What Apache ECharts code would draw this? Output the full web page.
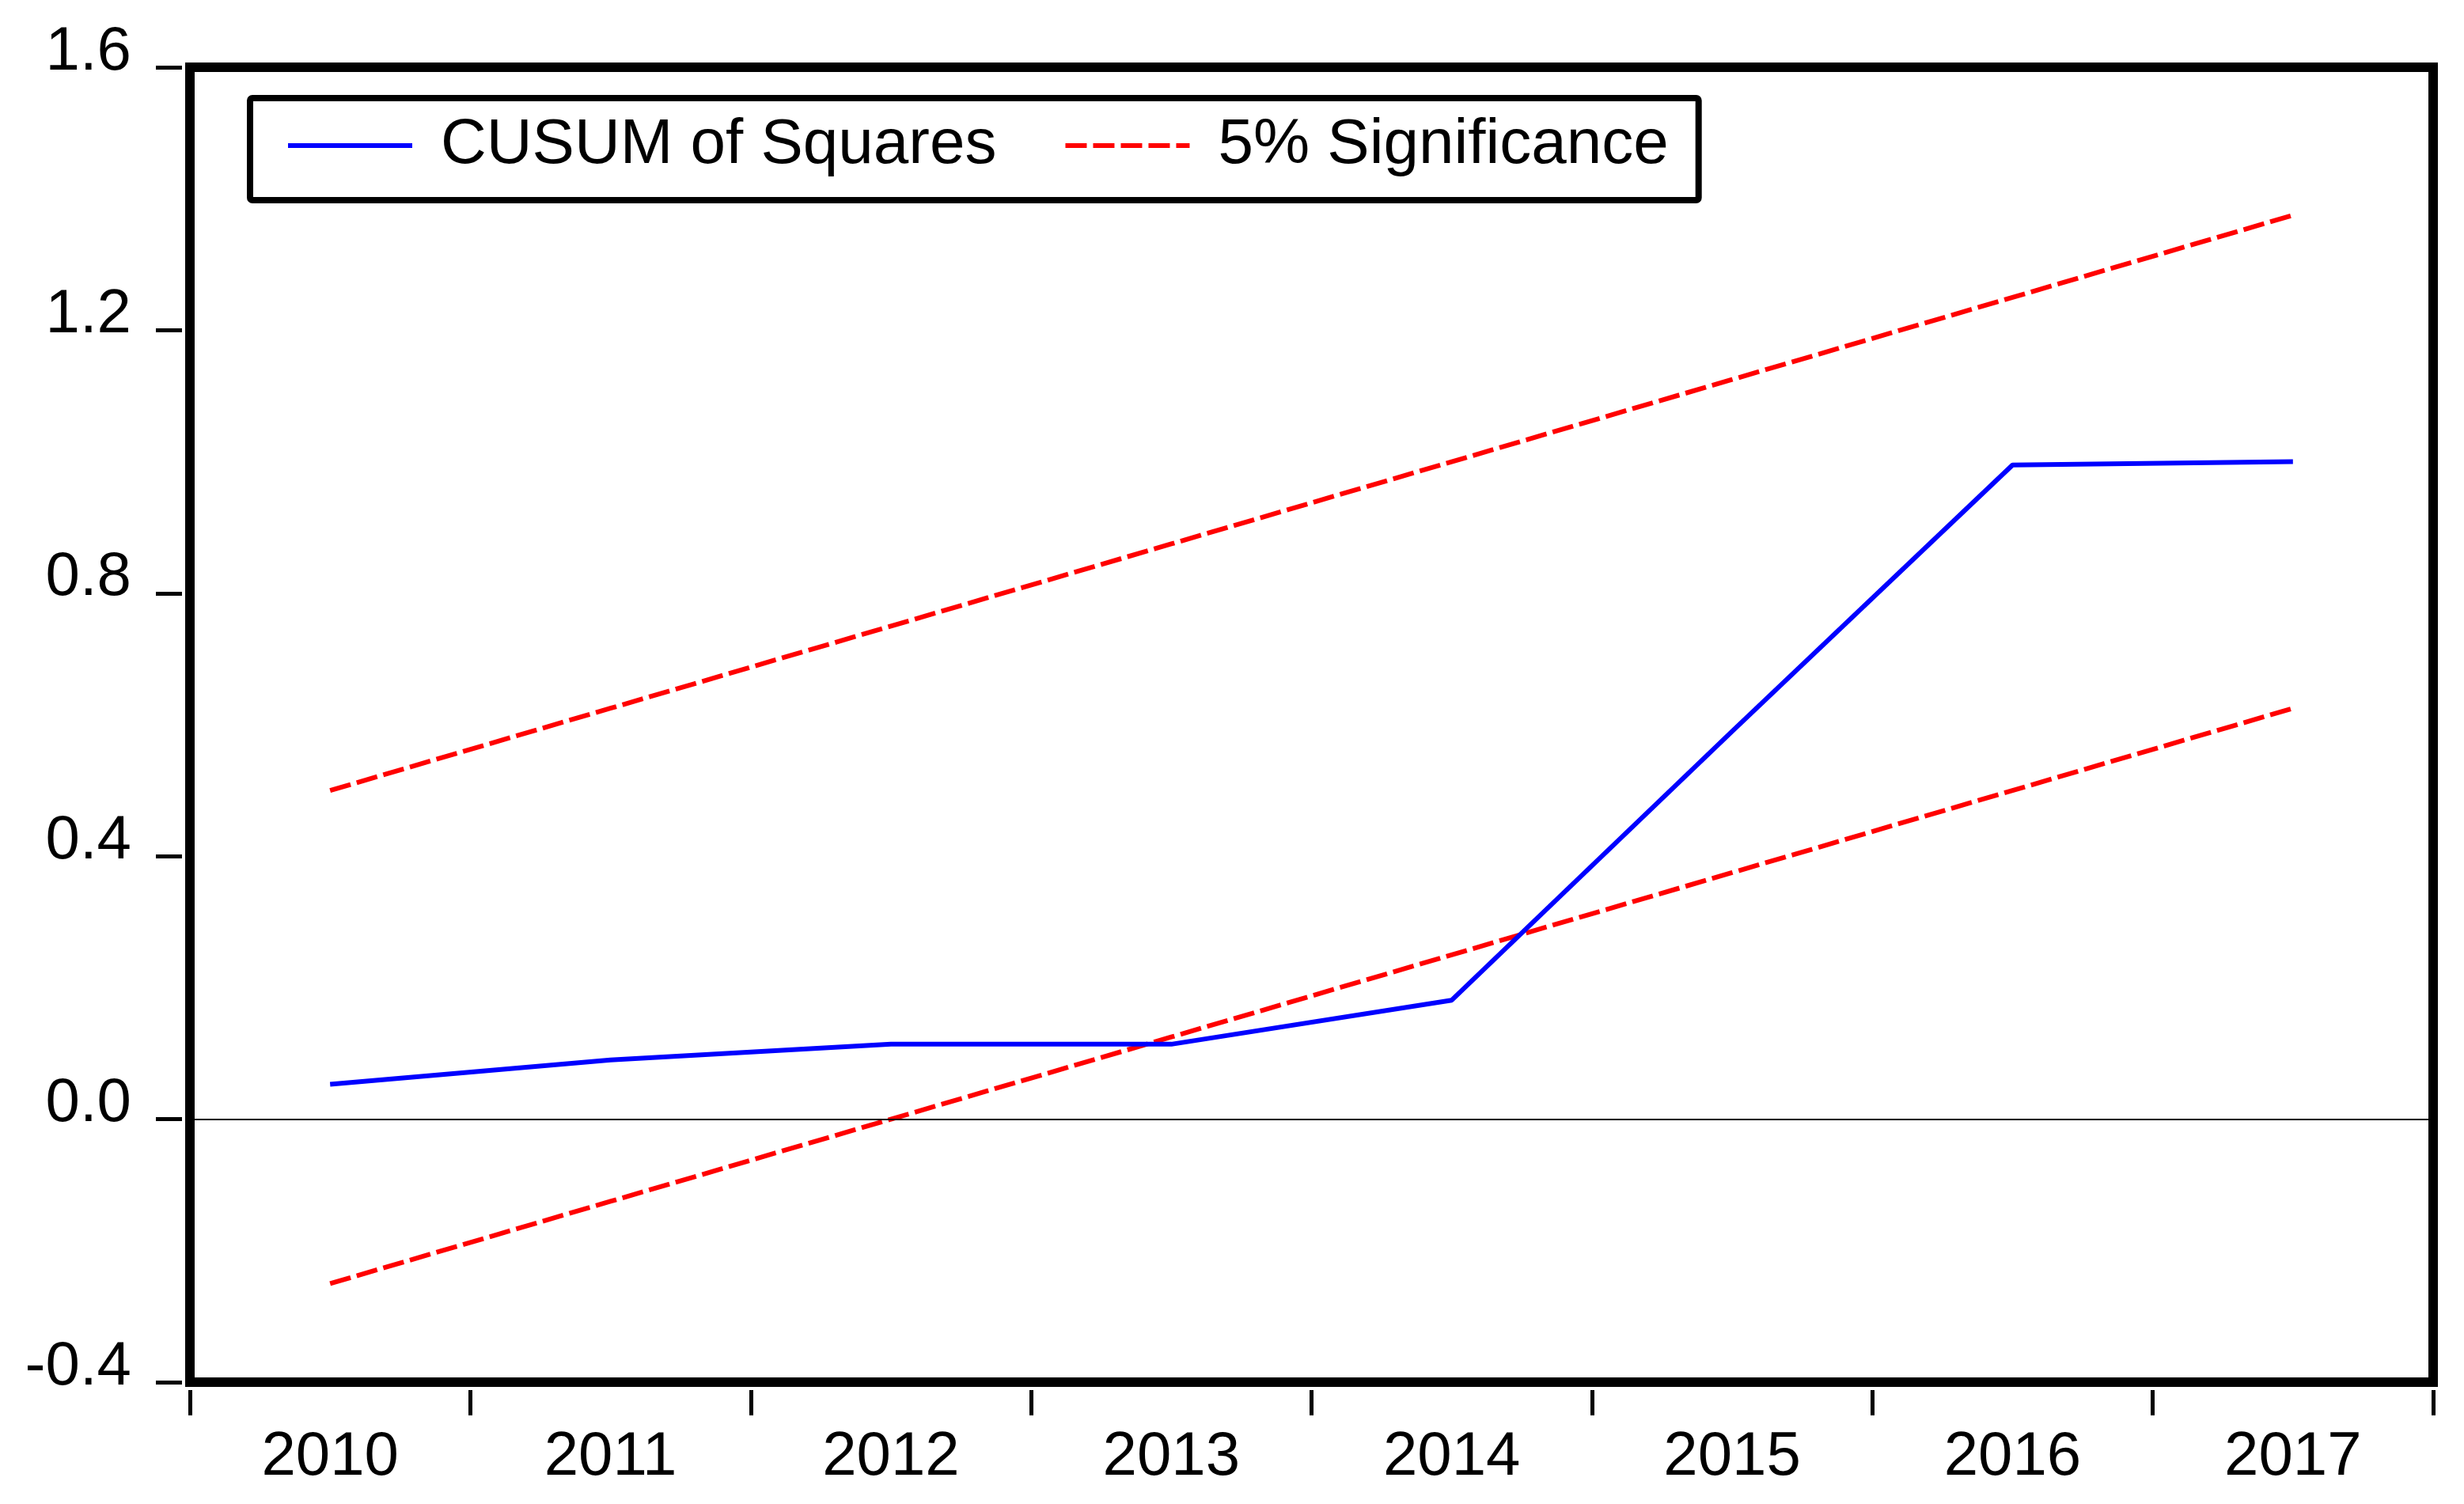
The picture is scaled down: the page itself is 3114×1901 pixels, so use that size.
<!DOCTYPE html>
<html>
<head>
<meta charset="utf-8">
<script src="https://cdn.jsdelivr.net/npm/echarts@6/dist/echarts.min.js"></script>
<style>
html,body{margin:0;padding:0;background:#fff;}
#chart{width:3114px;height:1901px;}
</style>
</head>
<body>
<div id="chart"></div>
<script>
const years = ['2010','2011','2012','2013','2014','2015','2016','2017'];
const cusumSq = [0.053, 0.090, 0.114, 0.114, 0.181, 0.590, 0.995, 1.000];
const lower5 = [-0.250, -0.125, 0.000, 0.125, 0.250, 0.375, 0.500, 0.625];
const upper5 = [0.500, 0.625, 0.750, 0.875, 1.000, 1.125, 1.250, 1.375];
const yTicks = {min: -0.4, max: 1.6, interval: 0.4};

const FONT = '"Liberation Sans", Arial, sans-serif';
const chart = echarts.init(document.getElementById('chart'), null, {renderer: 'canvas'});
chart.setOption({
  animation: false,
  backgroundColor: '#ffffff',
  textStyle: {fontFamily: FONT, color: '#000'},
  grid: {
    left: 240, top: 85, width: 2835, height: 1662,
    show: true, borderWidth: 12, borderColor: '#000', backgroundColor: 'transparent',
    containLabel: false
  },
  legend: {
    left: 316, top: 124,
    orient: 'horizontal',
    padding: [20, 38, 29, 45],
    borderColor: '#000', borderWidth: 8, borderRadius: 3,
    backgroundColor: '#fff',
    itemWidth: 157, itemHeight: 80, itemGap: 84,
    itemStyle: {opacity: 0, borderWidth: 0},
    lineStyle: {width: 6},
    textStyle: {fontFamily: FONT, fontSize: 80, color: '#000', padding: [0, 0, 0, 31]},
    data: ['CUSUM of Squares', '5% Significance']
  },
  xAxis: {
    type: 'category',
    data: years,
    boundaryGap: true,
    offset: 10,
    axisLine: {show: false, onZero: false},
    axisTick: {show: true, inside: false, length: 32, interval: 0, alignWithLabel: false,
      lineStyle: {color: '#000', width: 5}},
    axisLabel: {fontFamily: FONT, fontSize: 78, color: '#000', margin: 46, interval: 0},
    splitLine: {show: false}
  },
  yAxis: {
    type: 'value',
    min: yTicks.min, max: yTicks.max, interval: yTicks.interval,
    offset: 10,
    axisLine: {show: false},
    axisTick: {show: true, inside: false, length: 33, lineStyle: {color: '#000', width: 5}},
    axisLabel: {fontFamily: FONT, fontSize: 78, color: '#000', margin: 64,
      verticalAlign: 'bottom', lineHeight: 38,
      formatter: v => v.toFixed(1)},
    splitLine: {show: false}
  },
  series: [
    {
      name: 'CUSUM of Squares', type: 'line', data: cusumSq,
      symbol: 'none', z: 3,
      lineStyle: {color: '#0000ff', width: 6},
      itemStyle: {color: '#0000ff'},
      markLine: {
        silent: true, symbol: 'none', label: {show: false},
        lineStyle: {color: '#000', width: 2, type: 'solid'},
        data: [{yAxis: 0}]
      }
    },
    {
      name: '5% Significance', type: 'line', data: lower5,
      symbol: 'none', z: 2,
      lineStyle: {color: '#ff0000', width: 6, type: [27, 8]},
      itemStyle: {color: '#ff0000'}
    },
    {
      name: '5% Significance', type: 'line', data: upper5,
      symbol: 'none', z: 2,
      lineStyle: {color: '#ff0000', width: 6, type: [27, 8]},
      itemStyle: {color: '#ff0000'}
    }
  ]
});
</script>
</body>
</html>
